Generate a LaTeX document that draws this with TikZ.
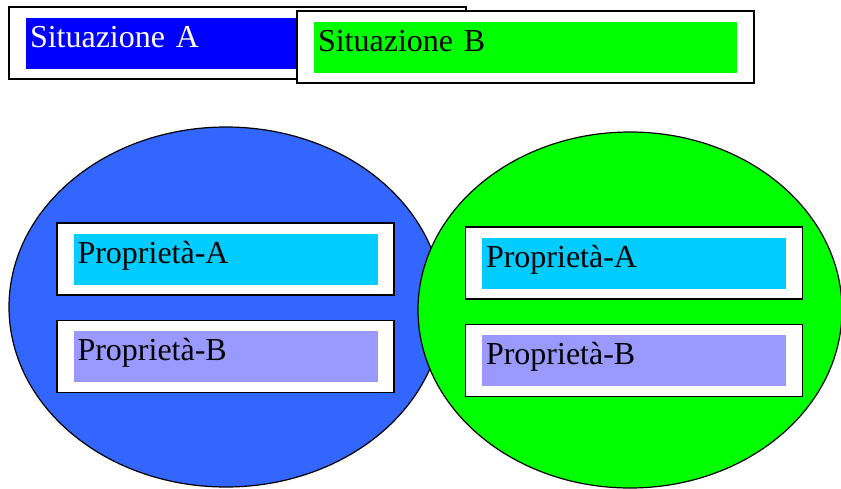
\documentclass[tikz,border=0pt]{standalone}
\usepackage{fontspec}
\setmainfont{Liberation Serif}
\usetikzlibrary{positioning, shapes.geometric}

\definecolor{sitAblue}{RGB}{0,0,255}
\definecolor{sitBgreen}{RGB}{0,255,0}
\definecolor{ellblue}{RGB}{51,102,255}
\definecolor{propAcyan}{RGB}{0,204,255}
\definecolor{propBlilac}{RGB}{153,153,255}

\begin{document}
\begin{tikzpicture}[x=1pt, y=-1pt,
	ell/.style={ellipse, draw, line width=1.2pt, inner sep=0pt},
	outbox/.style={rectangle, draw, line width=1.2pt, fill=white, inner sep=0pt, minimum height=72pt},
	inbox/.style={rectangle, inner sep=0pt, minimum height=51pt, align=left,
		text height=22pt, text depth=13pt, font=\fontsize{32}{38}\selectfont},
	wide/.style={minimum width=457pt},
	wideIn/.style={minimum width=423pt, text width=415pt},
	prop/.style={minimum width=337pt},
	propIn/.style={minimum width=304pt, text width=296pt}]
		\useasboundingbox (0,0) rectangle (841,488);

		% the two situations
		\node [ell, fill=ellblue, minimum width=434pt, minimum height=360pt] (E1) at (226,307) {};
		\node [ell, fill=sitBgreen, minimum width=424pt, minimum height=356pt] (E2) at (630,310) {};

		% properties, left
		\node [outbox, prop] (PA1) at (225.5,259) {};
		\node [inbox, propIn, fill=propAcyan] (PA1t) at (PA1) {Proprietà-A};
		\node [outbox, prop, below=24pt of PA1] (PB1) {};
		\node [inbox, propIn, fill=propBlilac] (PB1t) at (PB1) {Proprietà-B};

		% properties, right
		\node [outbox, prop] (PA2) at (634,263) {};
		\node [inbox, propIn, fill=propAcyan] (PA2t) at (PA2) {Proprietà-A};
		\node [outbox, prop, below=24pt of PA2] (PB2) {};
		\node [inbox, propIn, fill=propBlilac] (PB2t) at (PB2) {Proprietà-B};

		% titles
		\node [outbox, wide] (SA) at (237.5,43) {};
		\node [inbox, wideIn, fill=sitAblue, text=white] (SAt) at (SA) {Situazione A};
		\node [outbox, wide] (SB) at (525.5,47) {};
		\node [inbox, wideIn, fill=sitBgreen] (SBt) at (SB) {Situazione B};
	\end{tikzpicture}
\end{document}
